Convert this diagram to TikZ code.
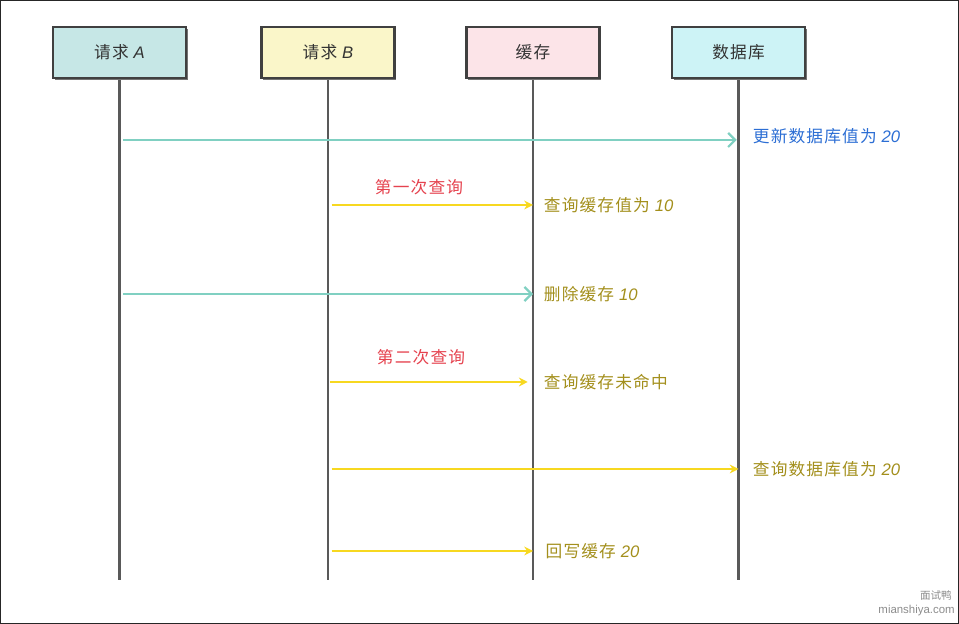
\documentclass[tikz,border=0pt]{standalone}
\usepackage{fontspec}
\setmainfont{Liberation Sans}
\newfontfamily\cjk[LetterSpace=7]{Noto Sans CJK SC}
\newfontfamily\cjkplain{Noto Sans CJK SC}
\newcommand{\num}[1]{{\normalfont\itshape #1}}
\usepackage{tikz}
\usetikzlibrary{arrows.meta,shadows}

\definecolor{colA}{HTML}{C6E7E6}
\definecolor{colB}{HTML}{FAF6C9}
\definecolor{colC}{HTML}{FCE4E8}
\definecolor{colD}{HTML}{CDF3F6}
\definecolor{msgteal}{HTML}{80D0C2}
\definecolor{msgyel}{HTML}{F7D820}
\definecolor{txtblue}{HTML}{2C6ED4}
\definecolor{txtolive}{HTML}{A38F1C}
\definecolor{txtred}{HTML}{E5434F}

\tikzset{
    actor/.style={draw=black!75, line width=1.2pt, minimum width=2.66cm, minimum height=1.02cm,
                  font=\cjk\fontsize{9.5}{11}\selectfont, text=black!80,
                  drop shadow={shadow xshift=1pt, shadow yshift=-1pt, fill=black!55, opacity=1}},
    life/.style={draw=black!65, line width=1.3pt},
    tealmsg/.style={draw=msgteal, line width=1.3pt, -{Straight Barb[length=4pt,width=8pt]}},
    yelmsg/.style={draw=msgyel, line width=1.3pt, -{Stealth[length=5pt,width=5pt]}},
    lbl/.style={font=\cjk\fontsize{9.5}{11}\selectfont, inner sep=0pt}
}

\begin{document}
\begin{tikzpicture}
    \useasboundingbox (0,0) rectangle (19.18,12.48);
    \draw[black!85, line width=0.6pt] (0.01,0.01) rectangle (19.17,12.47);

    % participants and lifelines
    \foreach \x/\nm/\txt/\col in {2.39/reqA/请求 \num{A}/colA, 6.56/reqB/请求 \num{B}/colB,
                                  10.66/cache/缓存/colC, 14.77/db/数据库/colD} {
        \coordinate (\nm-end) at (\x, 0.88);
        \draw[life] (\x, 11.43) -- (\nm-end);
        \node[actor, fill=\col] (\nm) at (\x, 11.43) {\txt};
    }

    % message rows
    \coordinate (m1) at (0, 9.68);
    \coordinate (m2) at (0, 8.38);
    \coordinate (m3) at (0, 6.60);
    \coordinate (m4) at (0, 4.84);
    \coordinate (m5) at (0, 3.10);
    \coordinate (m6) at (0, 1.46);

    \draw[tealmsg] ([xshift=2pt]reqA |- m1) -- ([xshift=-1pt]db |- m1);
    \node[lbl, anchor=west, text=txtblue] (t1) at ([xshift=8pt, yshift=2pt]db |- m1) {更新数据库值为 \num{20}};

    \draw[yelmsg] ([xshift=2pt]reqB |- m2) -- (cache |- m2);
    \node[lbl, text=txtred] (q1) at (8.38, 8.74) {第一次查询};
    \node[lbl, anchor=west, text=txtolive] (t2) at ([xshift=6pt]cache |- m2) {查询缓存值为 \num{10}};

    \draw[tealmsg] ([xshift=2pt]reqA |- m3) -- (cache |- m3);
    \node[lbl, anchor=west, text=txtolive] (t3) at ([xshift=6pt]cache |- m3) {删除缓存 \num{10}};

    \draw[yelmsg] ([xshift=1pt]reqB |- m4) -- ([xshift=-3pt]cache |- m4);
    \node[lbl, text=txtred] (q2) at (8.42, 5.34) {第二次查询};
    \node[lbl, anchor=west, text=txtolive] (t4) at ([xshift=6pt]cache |- m4) {查询缓存未命中};

    \draw[yelmsg] ([xshift=2pt]reqB |- m5) -- (db |- m5);
    \node[lbl, anchor=west, text=txtolive] (t5) at ([xshift=8pt]db |- m5) {查询数据库值为 \num{20}};

    \draw[yelmsg] ([xshift=2pt]reqB |- m6) -- (cache |- m6);
    \node[lbl, anchor=west, text=txtolive] (t6) at ([xshift=7pt]cache |- m6) {回写缓存 \num{20}};

    % watermark
    \node[anchor=east, inner sep=0pt, text=black!45, font=\cjkplain\fontsize{6}{7}\selectfont] (wm1) at (19.04, 0.56) {面试鸭};
    \node[anchor=east, inner sep=0pt, text=black!45, font=\fontsize{6.5}{7}\selectfont] (wm2) at (19.10, 0.27) {mianshiya.com};
\end{tikzpicture}
\end{document}
